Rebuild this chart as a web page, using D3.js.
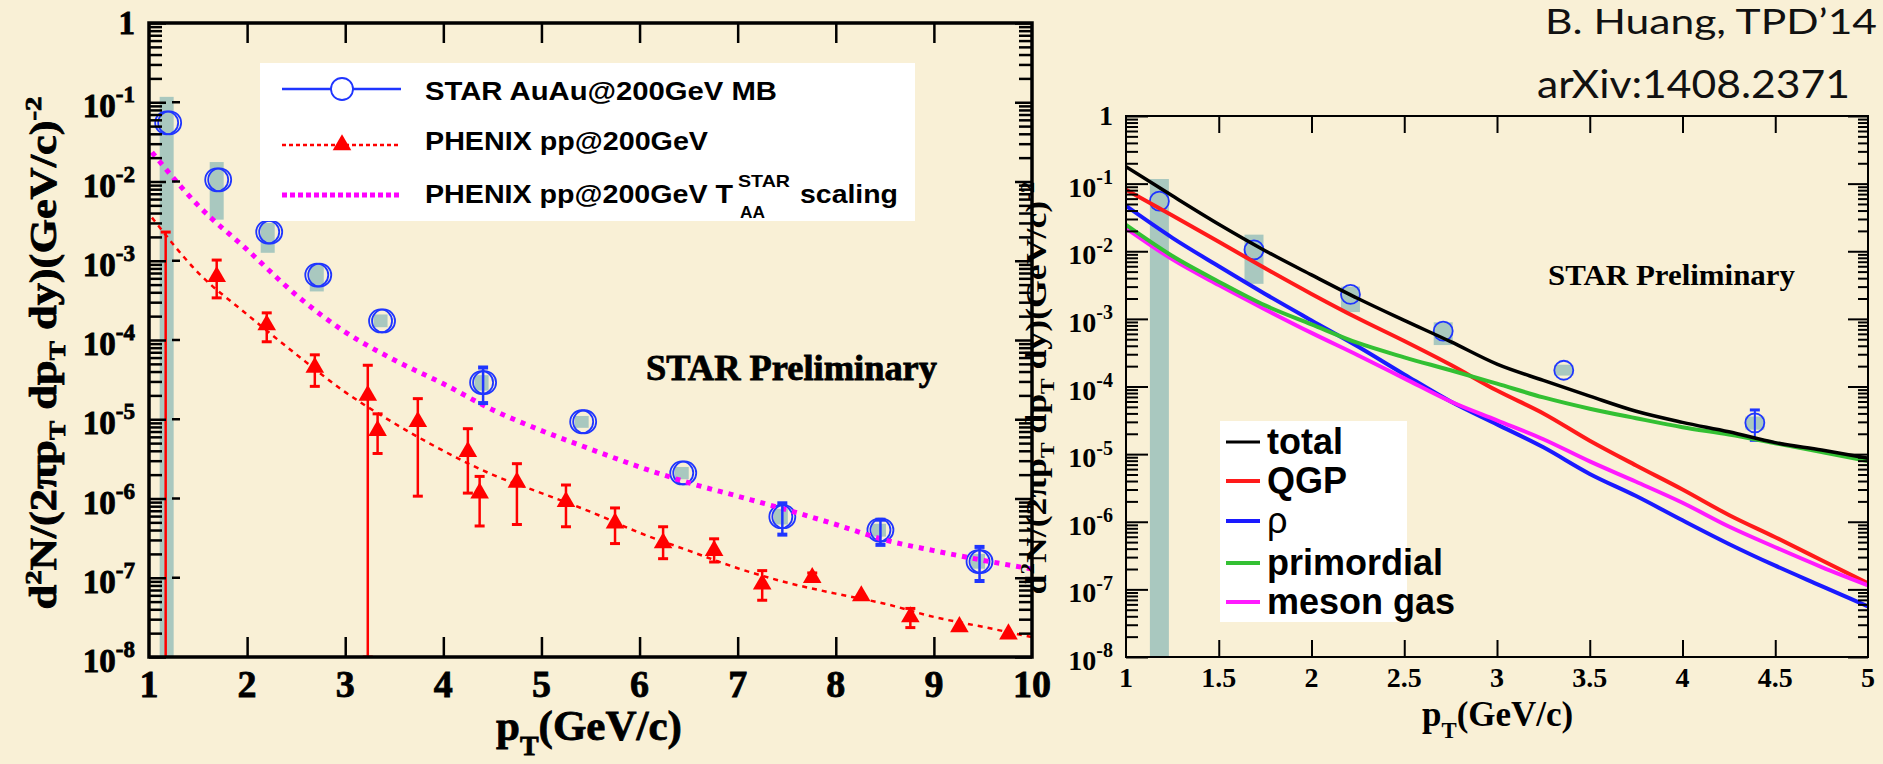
<!DOCTYPE html>
<html>
<head>
<meta charset="utf-8">
<script src="https://cdn.jsdelivr.net/npm/d3@7"></script>
<style>
  body { margin: 0; background: #f9f0d6; }
  svg { display: block; }
</style>
</head>
<body>
<div id="chart"></div>
<script>
// ---------- data: left panel (pT 1..10) ----------
const starX     = [1.18, 1.69, 2.21, 2.71, 3.36, 4.39, 5.41, 6.43, 7.44, 8.44, 9.45];
const starY     = [5.5e-2, 1.05e-2, 2.3e-3, 6.6e-4, 1.74e-4, 2.9e-5, 9.3e-6, 2.1e-6, 5.9e-7, 4.0e-7, 1.6e-7];
const starErrHi = [5.5e-2, 1.05e-2, 2.3e-3, 6.6e-4, 1.74e-4, 4.5e-5, 9.3e-6, 2.1e-6, 8.7e-7, 5.4e-7, 2.45e-7];
const starErrLo = [5.5e-2, 1.05e-2, 2.3e-3, 6.6e-4, 1.74e-4, 1.6e-5, 9.3e-6, 2.1e-6, 3.5e-7, 2.6e-7, 9.1e-8];
const starSysHi = [1.17e-1, 1.76e-2, 3.0e-3, 8.9e-4, 2.1e-4, 3.6e-5, 1.1e-5, 2.5e-6, 7.4e-7, 4.8e-7, 2.0e-7];
const starSysLo = [1e-9, 3.3e-3, 1.26e-3, 4.1e-4, 1.45e-4, 2.3e-5, 7.8e-6, 1.75e-6, 4.7e-7, 3.3e-7, 1.3e-7];

const phxX  = [1.17, 1.69, 2.20, 2.69, 3.23, 3.33, 3.74, 4.25, 4.37, 4.75, 5.25, 5.75, 6.24, 6.76, 7.25, 7.76, 8.26, 8.76, 9.26, 9.76];
const phxY  = [1e-9, 6.3e-4, 1.55e-4, 4.5e-5, 2.0e-5, 7.2e-6, 9.3e-6, 3.9e-6, 1.17e-6, 1.6e-6, 9.1e-7, 4.9e-7, 2.75e-7, 2.2e-7, 8.3e-8, 1.0e-7, 5.9e-8, 3.2e-8, 2.4e-8, 1.95e-8];
const phxHi = [2.3e-3, 1.02e-3, 2.2e-4, 6.5e-5, 4.8e-5, 1.17e-5, 1.82e-5, 7.6e-6, 1.9e-6, 2.75e-6, 1.48e-6, 7.6e-7, 4.4e-7, 3.1e-7, 1.23e-7, 1.15e-7, 6.5e-8, 4.1e-8, 2.6e-8, 2.1e-8];
const phxLo = [1e-9, 3.4e-4, 9.5e-5, 2.6e-5, 1e-8, 3.7e-6, 1.07e-6, 1.17e-6, 4.5e-7, 4.7e-7, 4.4e-7, 2.7e-7, 1.74e-7, 1.58e-7, 5.2e-8, 8.7e-8, 5.3e-8, 2.35e-8, 2.2e-8, 1.8e-8];

const fitX   = [1.03, 1.5, 2, 2.5, 3, 3.5, 4, 4.5, 5, 5.5, 6, 6.5, 7, 7.5, 8, 8.5, 9, 9.5, 10];
const ppFit  = [3.5e-3, 7.1e-4, 2.1e-4, 6.6e-5, 2.2e-5, 8.9e-6, 4.0e-6, 2.0e-6, 1.17e-6, 6.8e-7, 3.7e-7, 2.2e-7, 1.32e-7, 8.7e-8, 6.3e-8, 4.7e-8, 3.2e-8, 2.4e-8, 1.78e-8];
const taaFit = [2.34e-2, 5.0e-3, 1.38e-3, 3.7e-4, 1.26e-4, 5.6e-5, 2.8e-5, 1.32e-5, 7.2e-6, 4.2e-6, 2.5e-6, 1.58e-6, 1.07e-6, 7.2e-7, 4.7e-7, 3.0e-7, 2.2e-7, 1.66e-7, 1.29e-7];

// ---------- data: right panel model curves (pT 1..5) ----------
const modelX      = [1, 1.25, 1.5, 1.75, 2, 2.25, 2.5, 2.75, 3, 3.25, 3.5, 3.75, 4, 4.25, 4.5, 4.75, 5];
const totalY      = [0.178, 0.066, 0.0251, 0.0102, 4.47e-3, 2.0e-3, 9.5e-4, 4.6e-4, 2.14e-4, 1.23e-4, 7.2e-5, 4.3e-5, 2.95e-5, 2.14e-5, 1.48e-5, 1.15e-5, 8.7e-6];
const qgpY        = [0.0813, 0.0339, 0.0138, 5.6e-3, 2.34e-3, 1.02e-3, 4.7e-4, 2.09e-4, 8.7e-5, 4.0e-5, 1.58e-5, 6.8e-6, 3.0e-6, 1.26e-6, 5.9e-7, 2.7e-7, 1.23e-7];
const rhoY        = [0.0468, 0.0158, 6.0e-3, 2.34e-3, 9.5e-4, 3.9e-4, 1.51e-4, 6.0e-5, 2.75e-5, 1.26e-5, 5.1e-6, 2.4e-6, 1.05e-6, 4.7e-7, 2.24e-7, 1.12e-7, 5.6e-8];
const primordialY = [0.0245, 8.5e-3, 3.55e-3, 1.58e-3, 8.3e-4, 4.4e-4, 2.7e-4, 1.74e-4, 1.10e-4, 6.9e-5, 4.7e-5, 3.4e-5, 2.5e-5, 1.95e-5, 1.45e-5, 1.07e-5, 7.9e-6];
const mesonGasY   = [0.0219, 7.6e-3, 3.16e-3, 1.38e-3, 6.2e-4, 2.9e-4, 1.32e-4, 6.0e-5, 3.16e-5, 1.66e-5, 7.8e-6, 3.9e-6, 1.91e-6, 8.5e-7, 4.2e-7, 2.14e-7, 1.15e-7];

const modelNames  = ["total", "QGP", "\u03c1", "primordial", "meson gas"];
const modelColors = ["#000000", "#ff1a1a", "#1a1aff", "#33c033", "#ff1aff"];
const modelSeries = [totalY, qgpY, rhoY, primordialY, mesonGasY];

const leftXTicks  = [1, 2, 3, 4, 5, 6, 7, 8, 9, 10];
const rightXTicks = [1, 1.5, 2, 2.5, 3, 3.5, 4, 4.5, 5];
const decadeExp   = [0, 1, 2, 3, 4, 5, 6, 7, 8];

// ---------- setup ----------
const W = 1883, H = 764;
const serif = "'Liberation Serif','Times New Roman',serif";
const sans  = "'Liberation Sans',Arial,sans-serif";
const blue = "#1f35ff", red = "#ff0000", magenta = "#ff00ff", sysFill = "#a9c8bf";

const svg = d3.select("#chart").append("svg").attr("width", W).attr("height", H);
svg.append("rect").attr("width", W).attr("height", H).attr("fill", "#f9f0d6");

const xL = d3.scaleLinear().domain([1, 10]).range([149, 1032]);
const yL = d3.scaleLog().domain([1e-8, 1]).range([657, 23]);
const xR = d3.scaleLinear().domain([1, 5]).range([1126, 1868]);
const yR = d3.scaleLog().domain([1e-8, 1]).range([657, 116]);

const decades = decadeExp.map(k => Math.pow(10, -k));
const minors = [];
decades.slice(1).forEach(d => { for (let m = 2; m <= 9; m++) minors.push(d * m); });

// frame with inward ticks on all four sides
function frame(g, x, y, o) {
  const [x0, x1] = x.range(), [yb, yt] = y.range();
  const tk = (axis, tx, ty) => g.append("g")
    .attr("transform", `translate(${tx},${ty})`)
    .call(axis)
    .call(s => s.select(".domain").remove())
    .call(s => s.selectAll("line").attr("stroke", "#000").attr("stroke-width", o.tw));
  tk(d3.axisRight(y).tickValues(minors).tickSize(o.minor).tickFormat(""), x0, 0);
  tk(d3.axisRight(y).tickValues(decades).tickSize(o.major).tickFormat(""), x0, 0);
  tk(d3.axisLeft(y).tickValues(minors).tickSize(o.minorR).tickFormat(""), x1, 0);
  tk(d3.axisLeft(y).tickValues(decades).tickSize(o.majorR).tickFormat(""), x1, 0);
  tk(d3.axisBottom(x).tickValues(o.xt).tickSize(o.xlen).tickFormat(""), 0, yt);
  tk(d3.axisTop(x).tickValues(o.xt).tickSize(o.xlen).tickFormat(""), 0, yb);
  g.append("rect").attr("x", x0).attr("y", yt).attr("width", x1 - x0).attr("height", yb - yt)
    .attr("fill", "none").attr("stroke", "#000").attr("stroke-width", o.fw);
}

function yTickLabels(g, y, xr, fs, fsSup, off, heavy) {
  decadeExp.forEach(k => {
    const t = g.append("text").attr("x", xr).attr("y", y(Math.pow(10, -k)) + (k === 0 ? off - 4 : off))
      .attr("text-anchor", "end").attr("font-family", serif).attr("font-weight", "bold")
      .attr("font-size", fs).attr("fill", "#000");
    if (heavy) t.attr("stroke", "#000").attr("stroke-width", 0.8);
    if (k === 0) t.text("1");
    else {
      t.append("tspan").text("10");
      t.append("tspan").attr("font-size", fsSup).attr("dy", -fs * 0.45).text("-" + k);
    }
  });
}

function yTitle(g, cx, cy, fs, len, heavy) {
  const t = g.append("text").attr("transform", `translate(${cx},${cy}) rotate(-90)`)
    .attr("text-anchor", "middle").attr("font-family", serif).attr("font-weight", "bold")
    .attr("font-size", fs).attr("fill", "#000")
    .attr("textLength", len).attr("lengthAdjust", "spacingAndGlyphs");
  if (heavy) t.attr("stroke", "#000").attr("stroke-width", 0.8);
  const s = fs * 0.65, up = fs * 0.4, dn = fs * 0.25;
  t.append("tspan").text("d");
  t.append("tspan").attr("font-size", s).attr("dy", -up).text("2");
  t.append("tspan").attr("dy", up).text("N/(2\u03c0p");
  t.append("tspan").attr("font-size", s).attr("dy", dn).text("T");
  t.append("tspan").attr("dy", -dn).text(" dp");
  t.append("tspan").attr("font-size", s).attr("dy", dn).text("T");
  t.append("tspan").attr("dy", -dn).text(" dy)(GeV/c)");
  t.append("tspan").attr("font-size", s).attr("dy", -up).text("-2");
}

function xTitle(g, x, y, fs, heavy) {
  const t = g.append("text").attr("x", x).attr("y", y).attr("font-family", serif)
    .attr("font-weight", "bold").attr("font-size", fs).attr("fill", "#000");
  if (heavy) t.attr("stroke", "#000").attr("stroke-width", 0.8);
  t.append("tspan").text("p");
  t.append("tspan").attr("font-size", fs * 0.65).attr("dy", fs * 0.35).text("T");
  t.append("tspan").attr("dy", -fs * 0.35).text("(GeV/c)");
}

// ================= LEFT PANEL =================
const gl = svg.append("g");
svg.append("clipPath").attr("id", "clipL").append("rect")
  .attr("x", 149).attr("y", 23).attr("width", 1032 - 149).attr("height", 657 - 23);
const dl = gl.append("g").attr("clip-path", "url(#clipL)");

// systematic boxes
dl.selectAll("rect.sys").data(starX).join("rect").attr("class", "sys")
  .attr("x", d => xL(d) - 7).attr("width", 14)
  .attr("y", (d, i) => yL(starSysHi[i]))
  .attr("height", (d, i) => yL(starSysLo[i]) - yL(starSysHi[i]))
  .attr("fill", sysFill);

// STAR circles (double ring)
[0, 3].forEach(off => {
  dl.selectAll(null).data(starX).join("circle")
    .attr("cx", d => xL(d) + off).attr("cy", (d, i) => yL(starY[i])).attr("r", 11.5)
    .attr("fill", "none").attr("stroke", blue).attr("stroke-width", 1.8);
});

// fits
const lineL = (xs, ys) => d3.line().x((d, i) => xL(xs[i])).y(d => yL(d)).curve(d3.curveMonotoneX)(ys);
dl.append("path").attr("d", lineL(fitX, taaFit)).attr("fill", "none")
  .attr("stroke", magenta).attr("stroke-width", 5).attr("stroke-dasharray", "5,6");
dl.append("path").attr("d", lineL(fitX, ppFit)).attr("fill", "none")
  .attr("stroke", red).attr("stroke-width", 2.5).attr("stroke-dasharray", "5,5");

// PHENIX error bars
phxX.forEach((x, i) => {
  const px = xL(x), yh = yL(phxHi[i]), yo = yL(phxLo[i]);
  dl.append("line").attr("x1", px).attr("x2", px).attr("y1", yh).attr("y2", yo)
    .attr("stroke", red).attr("stroke-width", 2.5);
  if (phxHi[i] / phxY[i] > 1.15) dl.append("line").attr("x1", px - 5).attr("x2", px + 5)
    .attr("y1", yh).attr("y2", yh).attr("stroke", red).attr("stroke-width", 3);
  if (phxY[i] / phxLo[i] > 1.15 && phxLo[i] >= 1e-8) dl.append("line").attr("x1", px - 5).attr("x2", px + 5)
    .attr("y1", yo).attr("y2", yo).attr("stroke", red).attr("stroke-width", 3);
});
dl.selectAll("path.tri").data(phxX).join("path").attr("class", "tri")
  .attr("d", d3.symbol().type(d3.symbolTriangle).size(150))
  .attr("transform", (d, i) => `translate(${xL(d)},${yL(phxY[i])})`)
  .attr("fill", red);

// STAR stat error bars
starX.forEach((x, i) => {
  if (starErrHi[i] === starY[i]) return;
  const px = xL(x) + 1.5, yh = yL(starErrHi[i]), yo = yL(starErrLo[i]);
  dl.append("line").attr("x1", px).attr("x2", px).attr("y1", yh).attr("y2", yo)
    .attr("stroke", blue).attr("stroke-width", 2.5);
  [yh, yo].forEach(yy => dl.append("line").attr("x1", px - 5).attr("x2", px + 5)
    .attr("y1", yy).attr("y2", yy).attr("stroke", blue).attr("stroke-width", 4));
});

frame(gl, xL, yL, { tw: 2.5, minor: 13, major: 17, minorR: 13, majorR: 17, xt: [2, 3, 4, 5, 6, 7, 8, 9], xlen: 20, fw: 3.5 });
// little detached dashes beside the major ticks
gl.selectAll(null).data(decades.slice(1, 8)).join("line")
  .attr("x1", 172).attr("x2", 180).attr("y1", d => yL(d)).attr("y2", d => yL(d))
  .attr("stroke", "#000").attr("stroke-width", 2.5);

yTickLabels(gl, yL, 135, 33, 23, 15, true);
gl.selectAll(null).data(leftXTicks).join("text")
  .attr("x", d => xL(d)).attr("y", 697).attr("text-anchor", "middle")
  .attr("font-family", serif).attr("font-weight", "bold").attr("font-size", 38)
  .attr("stroke", "#000").attr("stroke-width", 0.8).text(d => d);
yTitle(gl, 56, 353, 37, 513, true);
xTitle(gl, 496, 740, 43, true);

gl.append("text").attr("x", 646).attr("y", 380).attr("font-family", serif).attr("font-weight", "bold")
  .attr("font-size", 35).attr("stroke", "#000").attr("stroke-width", 0.8)
  .attr("textLength", 291).attr("lengthAdjust", "spacingAndGlyphs").text("STAR Preliminary");

// legend (left)
const lg = gl.append("g");
lg.append("rect").attr("x", 260).attr("y", 63).attr("width", 655).attr("height", 158).attr("fill", "#fff");
lg.append("line").attr("x1", 282).attr("x2", 401).attr("y1", 89).attr("y2", 89).attr("stroke", blue).attr("stroke-width", 2.5);
lg.append("circle").attr("cx", 342).attr("cy", 89).attr("r", 11).attr("fill", "#fff").attr("stroke", blue).attr("stroke-width", 1.8);
lg.append("line").attr("x1", 282).attr("x2", 401).attr("y1", 145).attr("y2", 145).attr("stroke", red)
  .attr("stroke-width", 2.5).attr("stroke-dasharray", "4,3");
lg.append("path").attr("d", d3.symbol().type(d3.symbolTriangle).size(150)).attr("transform", "translate(342,145)").attr("fill", red);
lg.append("line").attr("x1", 282).attr("x2", 401).attr("y1", 195).attr("y2", 195).attr("stroke", magenta)
  .attr("stroke-width", 5).attr("stroke-dasharray", "5,3");
const lt = (x, y, fs, len, s) => {
  const t = lg.append("text").attr("x", x).attr("y", y).attr("font-family", sans).attr("font-weight", "bold")
    .attr("font-size", fs).text(s);
  if (len) t.attr("textLength", len).attr("lengthAdjust", "spacingAndGlyphs");
};
lt(425, 100, 26, 352, "STAR AuAu@200GeV MB");
lt(425, 150, 26, 283, "PHENIX pp@200GeV");
lt(425, 203, 26, 308, "PHENIX pp@200GeV T");
lt(738, 187, 17, 52, "STAR");
lt(740, 218, 17, 25, "AA");
lt(800, 203, 26, 98, "scaling");

// ================= RIGHT PANEL =================
const gr = svg.append("g");
svg.append("clipPath").attr("id", "clipR").append("rect")
  .attr("x", 1126).attr("y", 116).attr("width", 1868 - 1126).attr("height", 657 - 116);
const dr = gr.append("g").attr("clip-path", "url(#clipR)");

const rIdx = starX.map((d, i) => i).filter(i => starX[i] <= 5);
dr.selectAll(null).data(rIdx).join("rect")
  .attr("x", i => xR(starX[i]) - 9.5).attr("width", 19)
  .attr("y", i => yR(starSysHi[i])).attr("height", i => yR(starSysLo[i]) - yR(starSysHi[i]))
  .attr("fill", sysFill);
rIdx.forEach(i => {
  if (starErrHi[i] === starY[i]) return;
  const px = xR(starX[i]);
  dr.append("line").attr("x1", px).attr("x2", px).attr("y1", yR(starErrHi[i])).attr("y2", yR(starErrLo[i]))
    .attr("stroke", blue).attr("stroke-width", 2);
  [yR(starErrHi[i]), yR(starErrLo[i])].forEach(yy => dr.append("line").attr("x1", px - 5).attr("x2", px + 5)
    .attr("y1", yy).attr("y2", yy).attr("stroke", blue).attr("stroke-width", 3));
});
dr.selectAll(null).data(rIdx).join("circle")
  .attr("cx", i => xR(starX[i])).attr("cy", i => yR(starY[i])).attr("r", 9.5)
  .attr("fill", "none").attr("stroke", blue).attr("stroke-width", 1.8);

const lineR = d3.line().x((d, i) => xR(modelX[i])).y(d => yR(d)).curve(d3.curveMonotoneX);
[1, 2, 4, 3, 0].forEach(k => {
  dr.append("path").attr("d", lineR(modelSeries[k])).attr("fill", "none")
    .attr("stroke", modelColors[k]).attr("stroke-width", k === 0 ? 3.5 : 4);
});

frame(gr, xR, yR, { tw: 2, minor: 12, major: 22, minorR: 10, majorR: 20, xt: [1.5, 2, 2.5, 3, 3.5, 4, 4.5], xlen: 17, fw: 2 });
yTickLabels(gr, yR, 1113, 28, 20, 13, false);
gr.selectAll(null).data(rightXTicks).join("text")
  .attr("x", d => xR(d)).attr("y", 687).attr("text-anchor", "middle")
  .attr("font-family", serif).attr("font-weight", "bold").attr("font-size", 28).text(d => d);
yTitle(gr, 1046, 388, 30, 413, false);
xTitle(gr, 1422, 726, 35, false);

gr.append("text").attr("x", 1548).attr("y", 285).attr("font-family", serif).attr("font-weight", "bold")
  .attr("font-size", 30).attr("textLength", 247).attr("lengthAdjust", "spacingAndGlyphs").text("STAR Preliminary");

// legend (right)
const rg = gr.append("g");
rg.append("rect").attr("x", 1220).attr("y", 421).attr("width", 187).attr("height", 201).attr("fill", "#fff");
const rowY = [442, 481, 521, 563, 602];
modelNames.forEach((n, k) => {
  rg.append("line").attr("x1", 1226).attr("x2", 1260).attr("y1", rowY[k]).attr("y2", rowY[k])
    .attr("stroke", modelColors[k]).attr("stroke-width", k === 0 ? 3 : 4);
  rg.append("text").attr("x", 1267).attr("y", rowY[k] + 12).attr("font-family", sans)
    .attr("font-weight", k === 2 ? "normal" : "bold").attr("font-size", 36).text(n);
});

// ================= annotations =================
svg.append("text").attr("x", 1877).attr("y", 34).attr("text-anchor", "end")
  .attr("font-family", "Lato,'Open Sans',sans-serif").attr("font-size", 34).attr("fill", "#111")
  .attr("textLength", 332).attr("lengthAdjust", "spacingAndGlyphs").text("B. Huang, TPD\u201914");
svg.append("text").attr("x", 1850).attr("y", 98).attr("text-anchor", "end")
  .attr("font-family", "Lato,'Open Sans',sans-serif").attr("font-size", 38).attr("fill", "#111")
  .attr("textLength", 313).attr("lengthAdjust", "spacingAndGlyphs").text("arXiv:1408.2371");
</script>
</body>
</html>
